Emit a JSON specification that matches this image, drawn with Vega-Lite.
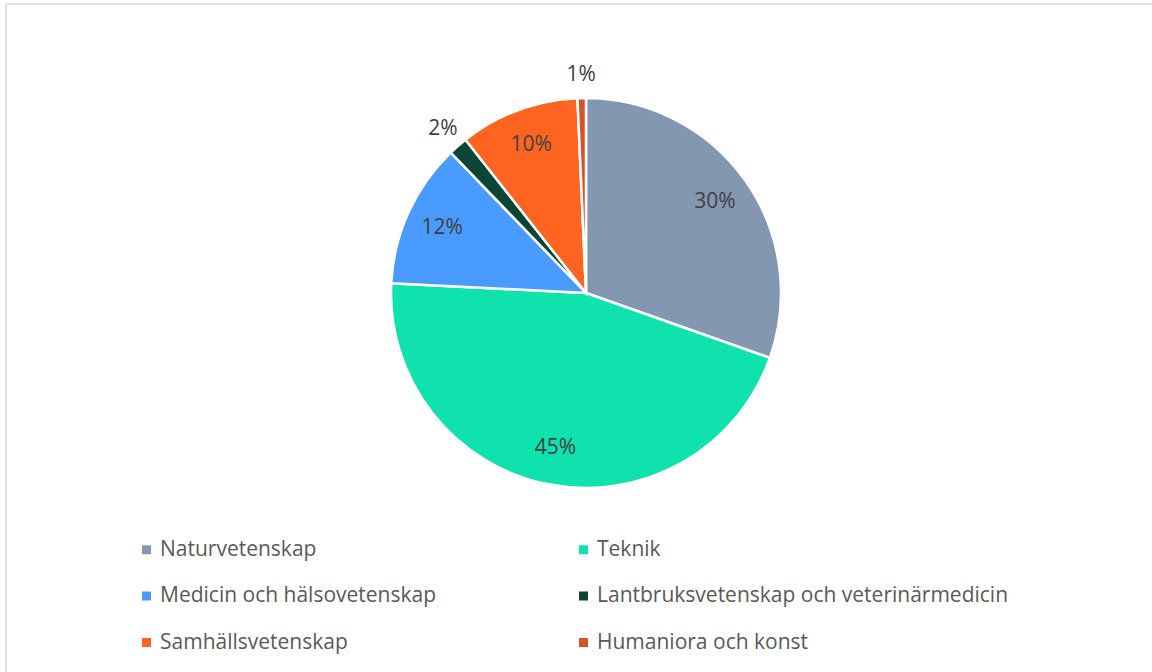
{
  "$schema": "https://vega.github.io/schema/vega-lite/v6.json",
  "width": 1160,
  "height": 578,
  "autosize": {"type": "none"},
  "padding": {"left": 6, "top": 4, "right": 0, "bottom": 90},
  "background": "white",
  "config": {"view": {"stroke": null}, "font": "Open Sans"},
  "data": {
    "values": [
      {"area": "Naturvetenskap", "share": 0.304, "rank": 1},
      {"area": "Teknik", "share": 0.454, "rank": 2},
      {"area": "Medicin och hälsovetenskap", "share": 0.120, "rank": 3},
      {"area": "Lantbruksvetenskap och veterinärmedicin", "share": 0.016, "rank": 4},
      {"area": "Samhällsvetenskap", "share": 0.099, "rank": 5},
      {"area": "Humaniora och konst", "share": 0.007, "rank": 6}
    ]
  },
  "layer": [
    {
      "data": {"values": [{}]},
      "mark": {"type": "rule", "color": "#D9D9D9", "strokeWidth": 1.5},
      "encoding": {"x": {"value": 0}, "y": {"value": 0}, "y2": {"value": 668}}
    },
    {
      "data": {"values": [{}]},
      "mark": {"type": "rule", "color": "#D9D9D9", "strokeWidth": 1.5},
      "encoding": {"x": {"value": 0}, "x2": {"value": 1160}, "y": {"value": 0}}
    },
    {
      "layer": [
        {
          "mark": {"type": "arc", "outerRadius": 195, "stroke": "white", "strokeWidth": 2.5},
          "encoding": {
            "theta": {"field": "share", "type": "quantitative", "stack": true},
            "order": {"field": "rank", "type": "quantitative"},
            "color": {
              "field": "area",
              "type": "nominal",
              "scale": {
                "domain": ["Naturvetenskap", "Medicin och hälsovetenskap", "Samhällsvetenskap", "Teknik", "Lantbruksvetenskap och veterinärmedicin", "Humaniora och konst"],
                "range": ["#8497B0", "#4A9BFF", "#FF6421", "#10E2AE", "#0A4535", "#D5532A"]
              },
              "legend": {
                "title": null,
                "orient": "none",
                "legendX": 130,
                "legendY": 535,
                "columns": 2,
                "symbolType": "square",
                "symbolSize": 81,
                "symbolStrokeWidth": 0,
                "labelFontSize": 21,
                "labelColor": "#595959",
                "labelFont": "Open Sans",
                "labelOffset": 3,
                "columnPadding": 136,
                "rowPadding": 24.5,
                "labelLimit": 600,
                "padding": 0
              }
            }
          }
        },
        {
          "mark": {"type": "text", "radius": 158, "fontSize": 21, "font": "Open Sans", "color": "#404040"},
          "encoding": {
            "theta": {"field": "share", "type": "quantitative", "stack": true},
            "order": {"field": "rank", "type": "quantitative"},
            "detail": {"field": "area", "type": "nominal"},
            "text": {"condition": {"test": "datum.share < 0.05", "value": ""}, "field": "share", "type": "quantitative", "format": ".0%"}
          }
        },
        {
          "mark": {"type": "text", "radius": 218, "fontSize": 21, "font": "Open Sans", "color": "#404040"},
          "encoding": {
            "theta": {"field": "share", "type": "quantitative", "stack": true},
            "order": {"field": "rank", "type": "quantitative"},
            "detail": {"field": "area", "type": "nominal"},
            "text": {"condition": {"test": "datum.share >= 0.05", "value": ""}, "field": "share", "type": "quantitative", "format": ".0%"}
          }
        }
      ]
    }
  ]
}
